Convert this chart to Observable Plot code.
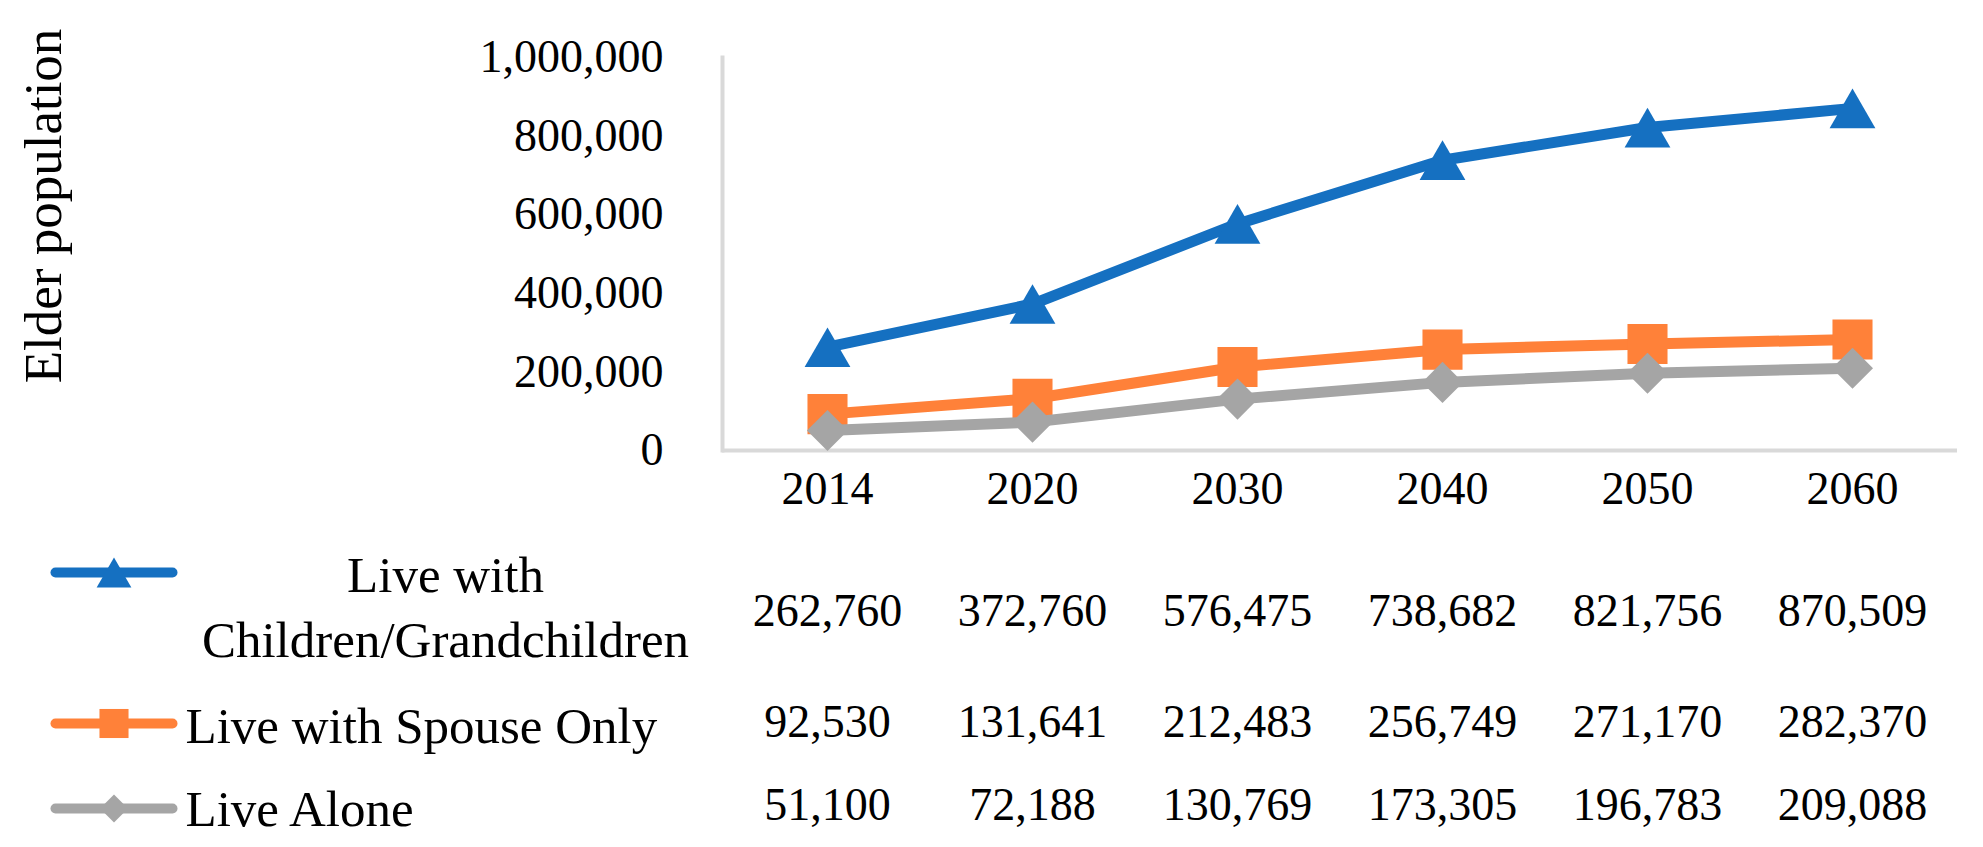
<!DOCTYPE html>
<html>
<head>
<meta charset="utf-8">
<script src="https://cdn.jsdelivr.net/npm/d3@7"></script>
<script src="https://cdn.jsdelivr.net/npm/@observablehq/plot@0.6"></script>
<style>
  html, body { margin: 0; padding: 0; background: #ffffff; }
  #chart svg { display: block; }
</style>
</head>
<body>
<div id="chart"></div>
<script>
// ---- data ----
const years = [2014, 2020, 2030, 2040, 2050, 2060];
const seriesNames = ["Live with Children/Grandchildren", "Live with Spouse Only", "Live Alone"];
const legendLabels = ["Live with\nChildren/Grandchildren", "Live with Spouse Only", "Live Alone"];
const childrenValues = [262760, 372760, 576475, 738682, 821756, 870509];
const spouseValues = [92530, 131641, 212483, 256749, 271170, 282370];
const aloneValues = [51100, 72188, 130769, 173305, 196783, 209088];
const yTicks = [0, 200000, 400000, 600000, 800000, 1000000];
const yAxisTitle = "Elder population";

// ---- styles ----
const seriesColors = ["#1570C1", "#FF8139", "#A5A5A5"];
const seriesSymbols = ["triangle", "square", "diamond2"];
const markerR = [17, 22.6, 18.5];
const legendMarkerR = [12.9, 16.4, 12.6];
const font = "'Liberation Serif', 'Times New Roman', serif";
const W = 1983;
const mLeft = 722, mRight = 26;
const axisGray = "#D9D9D9";
const numFmt = d3.format(",");

const seriesValues = [childrenValues, spouseValues, aloneValues];
const rows = seriesNames.flatMap((s, i) => years.map((y, j) => ({series: s, year: y, value: seriesValues[i][j]})));

// triangle: shift so its bounding box (not centroid) is centred on the point
const triDy = r => Math.sqrt(r * r * Math.PI / (3 * Math.sqrt(3))) / 2;

const xScale = {type: "point", domain: years, padding: 0.5};

// ---- main chart ----
const marks = [
  Plot.ruleY([0], {stroke: axisGray, strokeWidth: 4}),
  Plot.frame({anchor: "left", stroke: axisGray, strokeWidth: 4}),
  Plot.axisY({ticks: yTicks, tickFormat: numFmt, tickSize: 0, tickPadding: 59, fontSize: 46, label: null}),
  Plot.axisX({tickSize: 0, tickPadding: 21, fontSize: 46, tickFormat: d => `${d}`, label: null}),
  Plot.text([yAxisTitle], {x: null, y: null, frameAnchor: "left", rotate: -90, dx: 44 - mLeft, dy: -48, fontSize: 53, textAnchor: "middle", text: d => d})
];
seriesNames.forEach((s, i) => {
  const data = rows.filter(d => d.series === s);
  marks.push(Plot.line(data, {x: "year", y: "value", stroke: seriesColors[i], strokeWidth: 11, strokeLinejoin: "round", strokeLinecap: "round"}));
  marks.push(Plot.dot(data, {x: "year", y: "value", symbol: seriesSymbols[i], r: markerR[i], fill: seriesColors[i], stroke: "none",
    dy: seriesSymbols[i] === "triangle" ? triDy(markerR[i]) : 0}));
});

const chart = Plot.plot({
  width: W,
  height: 541,
  marginLeft: mLeft,
  marginRight: mRight,
  marginTop: 57,
  marginBottom: 91,
  x: xScale,
  y: {domain: [0, 1000000]},
  style: {fontFamily: font, fontSize: "46px", color: "#000", background: "#fff"},
  marks
});
document.getElementById("chart").appendChild(chart);

// ---- data table with legend keys ----
const legendLineLength = 127, legendLineWidth = 10, legendCenterX = 113.5;
const capsule = {
  draw(context) {
    const L = legendLineLength / 2 - legendLineWidth / 2, h = legendLineWidth / 2;
    context.moveTo(-L, -h);
    context.lineTo(L, -h);
    context.arc(L, 0, h, -Math.PI / 2, Math.PI / 2);
    context.lineTo(-L, h);
    context.arc(-L, 0, h, Math.PI / 2, 3 * Math.PI / 2);
    context.closePath();
  }
};

const rowHeights = [140, 82, 84];
const swatchDy = [-39, 1, 3];
const labelDy = [-8, 0, 0];
const labelAnchor = ["middle", "start", "start"];
const labelX = [445, 185, 185];

seriesNames.forEach((s, i) => {
  const data = rows.filter(d => d.series === s);
  const sym = seriesSymbols[i];
  const rowPlot = Plot.plot({
    width: W,
    height: rowHeights[i],
    marginLeft: mLeft,
    marginRight: mRight,
    marginTop: 0,
    marginBottom: 0,
    x: {...xScale, axis: null},
    style: {fontFamily: font, fontSize: "46px", color: "#000", background: "#fff"},
    marks: [
      Plot.text(data, {x: "year", text: d => numFmt(d.value), fontSize: 46, frameAnchor: "middle"}),
      Plot.text([legendLabels[i]], {x: null, y: null, frameAnchor: "left", dx: labelX[i] - mLeft, dy: labelDy[i],
        textAnchor: labelAnchor[i], fontSize: 51, lineHeight: 1.275, text: d => d}),
      Plot.dot([s], {x: null, y: null, frameAnchor: "left", dx: legendCenterX - mLeft, dy: swatchDy[i],
        symbol: capsule, r: 1, fill: seriesColors[i], stroke: "none"}),
      Plot.dot([s], {x: null, y: null, frameAnchor: "left", dx: legendCenterX - mLeft,
        dy: swatchDy[i] + (sym === "triangle" ? triDy(legendMarkerR[i]) : 0),
        symbol: sym, r: legendMarkerR[i], fill: seriesColors[i], stroke: "none"})
    ]
  });
  document.getElementById("chart").appendChild(rowPlot);
});
</script>
</body>
</html>
